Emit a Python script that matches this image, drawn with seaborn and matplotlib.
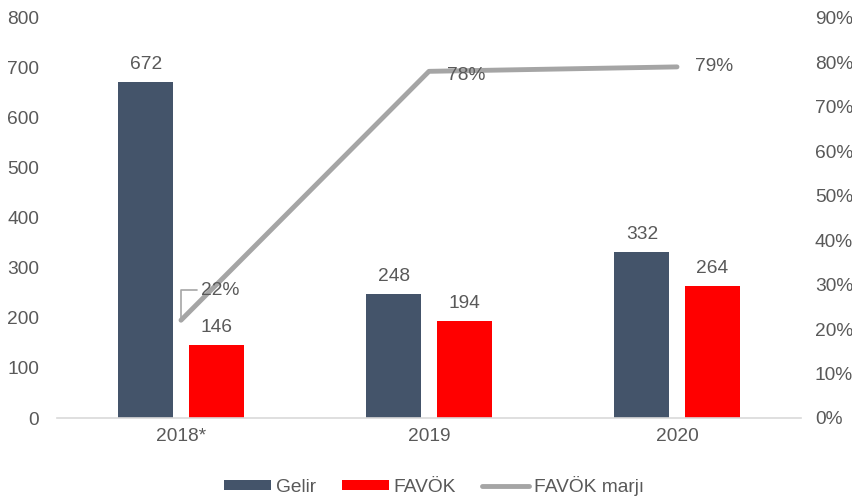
import matplotlib
matplotlib.use("Agg")
import matplotlib.pyplot as plt
import seaborn as sns
import pandas as pd
import numpy as np
from matplotlib.patches import Patch
from matplotlib.lines import Line2D

years = ["2018*", "2019", "2020"]
gelir = [672, 248, 332]
favok = [146, 194, 264]
marj = [0.22, 0.78, 0.79]
marj_labels = ["22%", "78%", "79%"]
series_names = ["Gelir", "FAVÖK", "FAVÖK marjı"]

C_GELIR = "#44546A"
C_FAVOK = "#FF0000"
C_LINE = "#A5A5A5"
C_TEXT = "#595959"
FS = 13.8

sns.set_theme(style="white")
plt.rcParams['font.family'] = ['Liberation Sans', 'DejaVu Sans']

df = pd.DataFrame({
    "Yıl": years * 2,
    "Değer": gelir + favok,
    "Seri": [series_names[0]] * 3 + [series_names[1]] * 3,
})

fig = plt.figure(figsize=(8.52, 4.98), dpi=100)
ax = fig.add_axes([57/852, 1-418/498, (801-57)/852, 400/498])

sns.barplot(data=df, x="Yıl", y="Değer", hue="Seri", order=years,
            hue_order=series_names[:2], palette=[C_GELIR, C_FAVOK],
            width=0.565, gap=0.215, saturation=1, linewidth=0, ax=ax, legend=False)

ax.set_ylim(0, 800)
ax.set_xlim(-0.5, 2.5)
ax.set_yticks(range(0, 801, 100))
ax.set_xlabel("")
ax.set_ylabel("")
for s in ["top", "right", "left"]:
    ax.spines[s].set_visible(False)
ax.spines["bottom"].set_color("#D9D9D9")
ax.spines["bottom"].set_linewidth(1.2)
ax.tick_params(axis="y", length=0, pad=13, labelsize=FS, labelcolor=C_TEXT)
ax.tick_params(axis="x", length=0, pad=7, labelsize=FS, labelcolor=C_TEXT)

for cont in ax.containers:
    ax.bar_label(cont, fmt="%d", padding=6.5, fontsize=FS, color=C_TEXT)

ax2 = ax.twinx()
sns.lineplot(x=np.arange(len(years)), y=marj, ax=ax2, color=C_LINE,
             linewidth=3.5, legend=False)
ax2.set_ylim(0, 0.9)
ax2.set_yticks(np.arange(0, 0.91, 0.1))
ax2.set_yticklabels([f"{int(round(v*100))}%" for v in np.arange(0, 0.91, 0.1)])
ax2.set_ylabel("")
for s in ["top", "right", "left", "bottom"]:
    ax2.spines[s].set_visible(False)
ax2.tick_params(axis="y", length=0, pad=10, labelsize=FS, labelcolor=C_TEXT)
ax2.set_xlim(-0.5, 2.5)

# line labels
ax2.annotate(marj_labels[0], xy=(0, marj[0]), xytext=(28, 21.6), textcoords="offset points",
             ha="center", va="center", fontsize=FS, color=C_TEXT,
             arrowprops=dict(arrowstyle="-", color=C_LINE, lw=1.2,
                             shrinkA=0, shrinkB=0,
                             connectionstyle="angle,angleA=0,angleB=90,rad=0",
                             relpos=(0, 0.5)))
ax2.annotate(marj_labels[1], xy=(1, marj[1]), xytext=(27, -3), textcoords="offset points",
             ha="center", va="center", fontsize=FS, color=C_TEXT)
ax2.annotate(marj_labels[2], xy=(2, marj[2]), xytext=(26.6, 0), textcoords="offset points",
             ha="center", va="center", fontsize=FS, color=C_TEXT)

handles = [Patch(facecolor=C_GELIR, edgecolor="none"),
           Patch(facecolor=C_FAVOK, edgecolor="none"),
           Line2D([0], [0], color=C_LINE, linewidth=3.5, solid_capstyle="round")]
leg = fig.legend(handles, series_names, loc="center", bbox_to_anchor=(434/852, 1-486/498),
                 ncol=3, frameon=False, fontsize=FS, handlelength=2.45, handleheight=0.47,
                 columnspacing=1.36, handletextpad=0.26)
for t in leg.get_texts():
    t.set_color(C_TEXT)

fig.savefig("out.png", dpi=100)
